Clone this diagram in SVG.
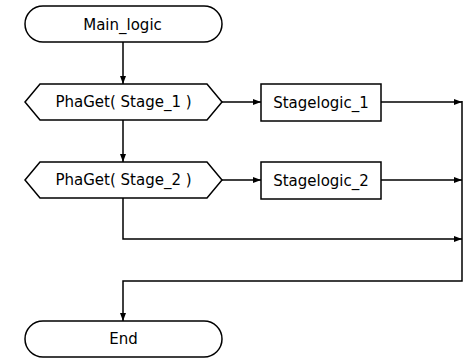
<svg xmlns="http://www.w3.org/2000/svg" width="470" height="361" viewBox="0 0 470 361">
<style>
.s{fill:#fff;stroke:#000;stroke-width:1.5}
.t{font-family:"DejaVu Sans",Verdana,sans-serif;font-size:15px;fill:#000;text-anchor:middle;dominant-baseline:central}
.c{fill:none;stroke:#000;stroke-width:1.5}
</style>
<defs>
<marker id="a" markerWidth="8" markerHeight="8" refX="8" refY="4" orient="auto" markerUnits="userSpaceOnUse">
<path d="M0,1 L8,4 L0,7 Z" fill="#000"/>
</marker>
</defs>
<rect width="470" height="361" fill="#fff"/>
<g id="connectors">
<path class="c" d="M123,42 V84" marker-end="url(#a)"/>
<path class="c" d="M123,120 V162" marker-end="url(#a)"/>
<path class="c" d="M222,102 H261" marker-end="url(#a)"/>
<path class="c" d="M222,180 H261" marker-end="url(#a)"/>
<path class="c" d="M381,102 H462" marker-end="url(#a)"/>
<path class="c" d="M381,180 H462" marker-end="url(#a)"/>
<path class="c" d="M123,198 V239 H462" marker-end="url(#a)"/>
<path class="c" d="M462,101 V281 H123 V321" marker-end="url(#a)"/>
</g>
<g id="main_logic">
<rect class="s" x="25" y="6" width="197" height="36" rx="18"/>
<text class="t" x="122.5" y="25">Main_logic</text>
</g>
<g id="phaget1">
<polygon class="s" points="25,102 40,84 207,84 222,102 207,120 40,120"/>
<text class="t" x="123.5" y="102">PhaGet( Stage_1 )</text>
</g>
<g id="phaget2">
<polygon class="s" points="25,180 40,162 207,162 222,180 207,198 40,198"/>
<text class="t" x="123.5" y="180">PhaGet( Stage_2 )</text>
</g>
<g id="stagelogic1">
<rect class="s" x="261" y="84" width="120" height="37"/>
<text class="t" x="321" y="102.5">Stagelogic_1</text>
</g>
<g id="stagelogic2">
<rect class="s" x="261" y="162" width="120" height="37"/>
<text class="t" x="321" y="180.5">Stagelogic_2</text>
</g>
<g id="end">
<rect class="s" x="25" y="321" width="197" height="36" rx="18"/>
<text class="t" x="123.5" y="339">End</text>
</g>
</svg>
